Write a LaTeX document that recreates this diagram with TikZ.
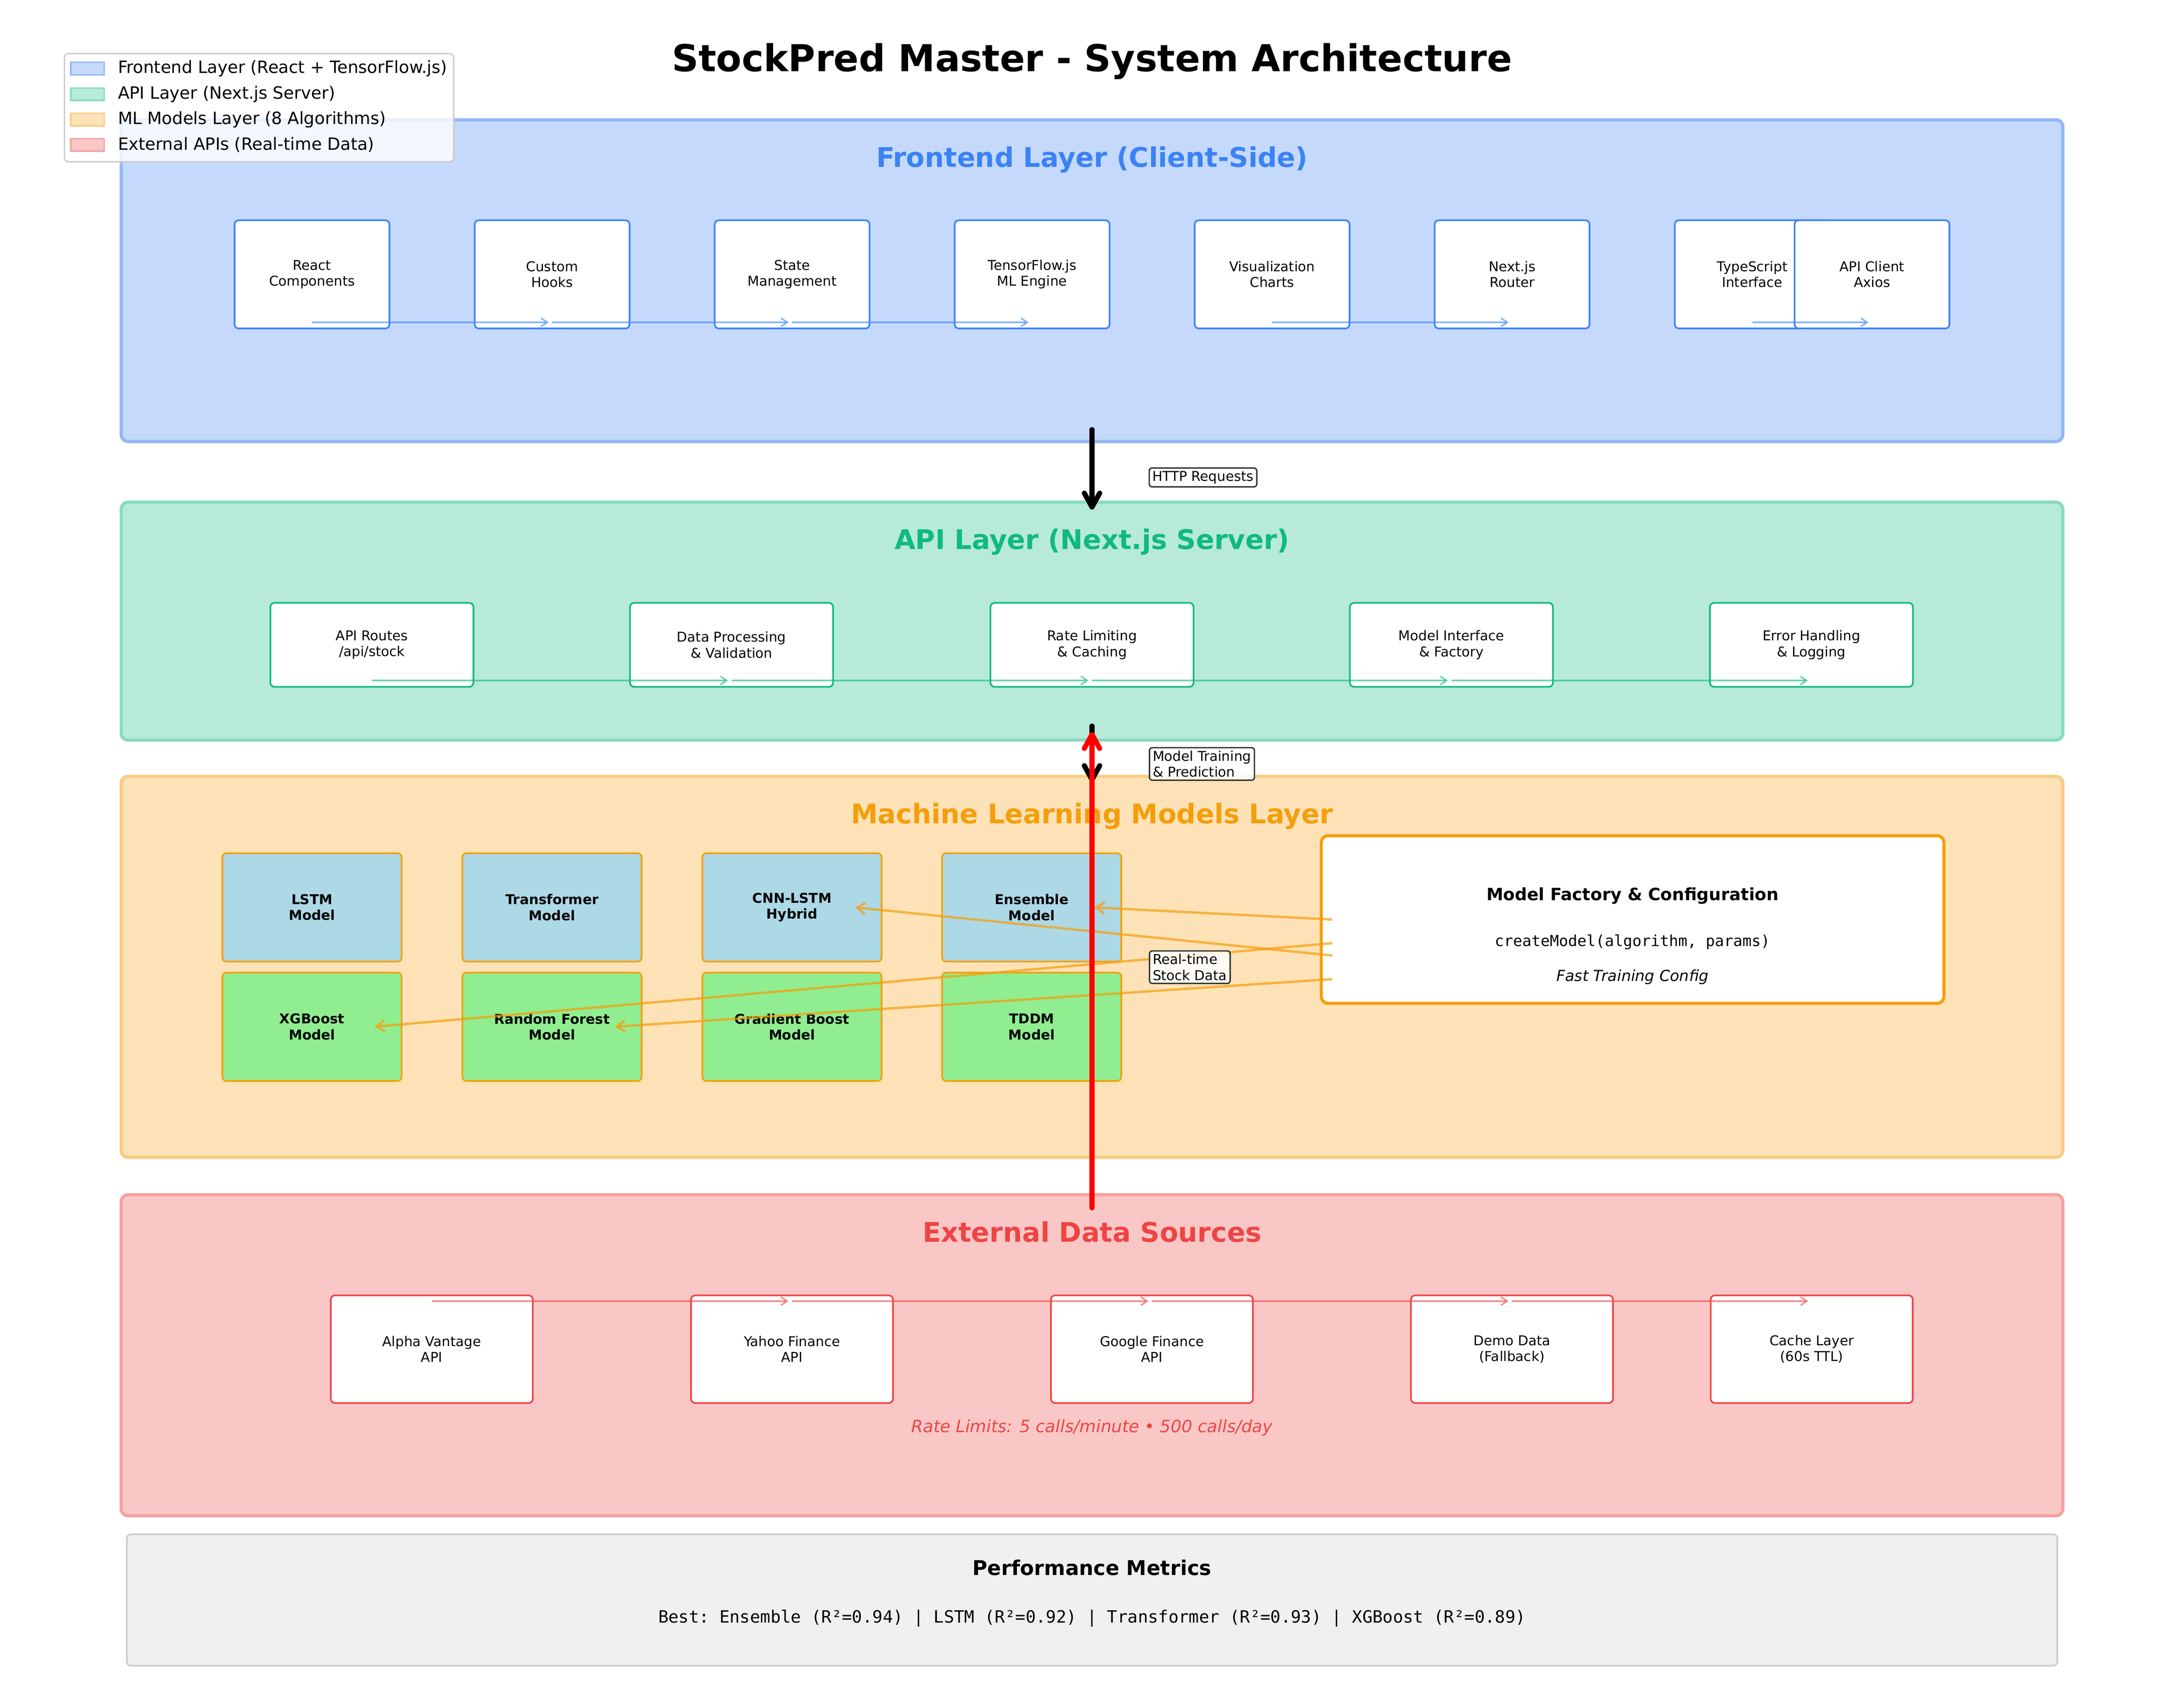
\documentclass[tikz,border=0pt]{standalone}
\usepackage{fontspec}
\setmainfont{DejaVu Sans}
\setmonofont{DejaVu Sans Mono}
\usetikzlibrary{arrows.meta}
\definecolor{feBlue}{HTML}{3B82F6}
\definecolor{apiGreen}{HTML}{10B981}
\definecolor{mlOrange}{HTML}{F59E0B}
\definecolor{extRed}{HTML}{EF4444}
\definecolor{feFill}{HTML}{C4D9FC}
\definecolor{feEdge}{HTML}{93B8F8}
\definecolor{apiFill}{HTML}{B7EAD9}
\definecolor{apiEdge}{HTML}{88DCC0}
\definecolor{mlFill}{HTML}{FCE2B6}
\definecolor{mlEdge}{HTML}{F9CC84}
\definecolor{extFill}{HTML}{FAC7C7}
\definecolor{extEdge}{HTML}{F6A1A1}
\definecolor{mBlue}{HTML}{ADD8E6}
\definecolor{mGreen}{HTML}{90EE90}
\definecolor{perfFill}{HTML}{F0F0F0}
\definecolor{perfEdge}{HTML}{CCCCCC}
\definecolor{lblEdge}{HTML}{333333}
\newcommand{\fsA}{\fontsize{9.73pt}{11.4pt}\selectfont}
\newcommand{\fsB}{\fontsize{10.95pt}{13.1pt}\selectfont}
\newcommand{\fsC}{\fontsize{12.17pt}{14.6pt}\selectfont}
\newcommand{\fsL}{\fontsize{12.15pt}{14.6pt}\selectfont}
\newcommand{\fsD}{\fontsize{14.6pt}{17.5pt}\selectfont}
\newcommand{\fsE}{\fontsize{19.4pt}{23.3pt}\selectfont}
\newcommand{\fsF}{\fontsize{26.6pt}{32pt}\selectfont}
\begin{document}
\begin{tikzpicture}[x=1pt,y=-1pt,
  layer/.style={draw, line width=2.3pt, rounded corners=5pt, inner sep=0pt, outer sep=0pt, minimum width=1394pt},
  ltitle/.style={anchor=base, font=\fsE\bfseries},
  fbox/.style={draw=feBlue, fill=white, line width=1.2pt, rounded corners=3pt, minimum width=111.2pt, minimum height=77.7pt, inner sep=0pt, align=center, font=\fsA},
  abox/.style={draw=apiGreen, fill=white, line width=1.2pt, rounded corners=3pt, minimum width=145.8pt, minimum height=60.3pt, inner sep=0pt, align=center, font=\fsA},
  ebox/.style={draw=extRed, fill=white, line width=1.2pt, rounded corners=3pt, minimum width=145pt, minimum height=77.3pt, inner sep=0pt, align=center, font=\fsA},
  mbox/.style={draw=mlOrange, line width=1.2pt, rounded corners=3pt, minimum width=128.7pt, minimum height=77.8pt, inner sep=0pt, align=center, font=\fsA\bfseries},
  flow/.style={-{Straight Barb[length=4.5pt,width=6pt]}, line width=1.1pt, draw opacity=0.6},
  heavy/.style={-{Straight Barb[length=10pt,width=11pt,round]}, line width=3.65pt, line cap=round},
  factarrow/.style={-{Straight Barb[length=6pt,width=8pt]}, line width=1.7pt, draw=mlOrange, draw opacity=0.7},
  lbl/.style={draw=lblEdge, fill=white, fill opacity=0.85, text opacity=1, line width=1pt, rounded corners=2pt, inner xsep=2.3pt, inner ysep=2.2pt, align=left, font=\fsA, anchor=west},
  patch/.style={line width=1pt, minimum width=24pt, minimum height=9pt, inner sep=0pt},
  legtext/.style={anchor=west, font=\fsL, inner sep=0pt}
]
\useasboundingbox (0,0) rectangle (1568,1217.6);
\fill[white] (0,0) rectangle (1568,1217.6);

% title
\node[anchor=base, font=\fsF\bfseries] (title) at (784,51.2) {StockPred Master - System Architecture};

% layers
\node[layer, draw=feEdge, fill=feFill, minimum height=231pt] (fe) at (784,201.5) {};
\node[layer, draw=apiEdge, fill=apiFill, minimum height=170.8pt] (api) at (784,446) {};
\node[layer, draw=mlEdge, fill=mlFill, minimum height=273.6pt] (ml) at (784,694.2) {};
\node[layer, draw=extEdge, fill=extFill, minimum height=230.5pt] (ext) at (784,973) {};

\node[ltitle, text=feBlue] (fet) at (784,119.8) {Frontend Layer (Client-Side)};
\node[ltitle, text=apiGreen] (apit) at (784,394.3) {API Layer (Next.js Server)};
\node[ltitle, text=mlOrange] (mlt) at (784,591.2) {Machine Learning Models Layer};
\node[ltitle, text=extRed] (extt) at (784,891.7) {External Data Sources};

% frontend boxes
\node[fbox] (f1) at (224,197) {React\\Components};
\node[fbox] (f2) at (396.4,197) {Custom\\Hooks};
\node[fbox] (f3) at (568.7,197) {State\\Management};
\node[fbox] (f4) at (741,197) {TensorFlow.js\\ML Engine};
\node[fbox] (f5) at (913.3,197) {Visualization\\Charts};
\node[fbox] (f6) at (1085.6,197) {Next.js\\Router};
\node[fbox] (f7) at (1258,197) {TypeScript\\Interface};
\node[fbox] (f8) at (1344,197) {API Client\\Axios};
\foreach \a/\b in {f1/f2,f2/f3,f3/f4,f5/f6,f7/f8}
  \draw[flow, draw=feBlue] ([yshift=-34.4pt]\a.center) -- ([shift={(-2.5pt,-34.4pt)}]\b.center);

% api boxes
\node[abox] (a1) at (267,463) {API Routes\\/api/stock};
\node[abox] (a2) at (525.2,463) {Data Processing\\\& Validation};
\node[abox] (a3) at (784,463) {Rate Limiting\\\& Caching};
\node[abox] (a4) at (1042,463) {Model Interface\\\& Factory};
\node[abox] (a5) at (1300.5,463) {Error Handling\\\& Logging};
\foreach \a/\b in {a1/a2,a2/a3,a3/a4,a4/a5}
  \draw[flow, draw=apiGreen] ([yshift=-25.6pt]\a.center) -- ([shift={(-2.5pt,-25.6pt)}]\b.center);

% model boxes
\node[mbox, fill=mBlue] (m1) at (224,651.5) {LSTM\\Model};
\node[mbox, fill=mBlue] (m2) at (396.3,651.5) {Transformer\\Model};
\node[mbox, fill=mBlue] (m3) at (568.6,651.5) {CNN-LSTM\\Hybrid};
\node[mbox, fill=mBlue] (m4) at (740.7,651.5) {Ensemble\\Model};
\node[mbox, fill=mGreen] (m5) at (224,737.2) {XGBoost\\Model};
\node[mbox, fill=mGreen] (m6) at (396.3,737.2) {Random Forest\\Model};
\node[mbox, fill=mGreen] (m7) at (568.6,737.2) {Gradient Boost\\Model};
\node[mbox, fill=mGreen] (m8) at (740.7,737.2) {TDDM\\Model};

% model factory
\node[draw=mlOrange, fill=white, line width=2.2pt, rounded corners=5pt, minimum width=447pt, minimum height=120.4pt, inner sep=0pt] (mf) at (1172.1,660.2) {};
\node[anchor=base, font=\fsC\bfseries] (mft) at (1172.1,646.5) {Model Factory \& Configuration};
\node[anchor=base, font=\fsB\ttfamily] (mfc) at (1172.1,679.5) {createModel(algorithm, params)};
\node[anchor=base, font=\fsB\itshape] (mfi) at (1172.1,704.6) {Fast Training Config};

\draw[factarrow] ([xshift=9pt]mf.west) -- ([xshift=44.7pt]m4.center);
\draw[factarrow] ([shift={(9pt,-25.8pt)}]mf.west) -- ([xshift=45.1pt]m3.center);
\draw[factarrow] ([shift={(9pt,-17pt)}]mf.west) -- ([xshift=44.7pt]m5.center);
\draw[factarrow] ([shift={(9pt,-42.8pt)}]mf.west) -- ([xshift=45pt]m6.center);

% external boxes
\node[ebox] (e1) at (310,968.7) {Alpha Vantage\\API};
\node[ebox] (e2) at (568.6,968.7) {Yahoo Finance\\API};
\node[ebox] (e3) at (827,968.7) {Google Finance\\API};
\node[ebox] (e4) at (1085.5,968.7) {Demo Data\\(Fallback)};
\node[ebox] (e5) at (1300.7,968.7) {Cache Layer\\(60s TTL)};
\foreach \a/\b in {e1/e2,e2/e3,e3/e4,e4/e5}
  \draw[flow, draw=extRed] ([yshift=34.5pt]\a.center) -- ([shift={(-2.5pt,34.5pt)}]\b.center);

\node[anchor=base, font=\fsC\itshape, text=extRed] (rl) at (784,1028.3) {Rate Limits: 5 calls/minute • 500 calls/day};

% main flow arrows
\draw[heavy] ([yshift=8.5pt]fe.south) -- ([yshift=-5.3pt]api.north);
\draw[heavy] ([yshift=10.1pt]api.south) -- ([yshift=-4.2pt]ml.north);
\draw[heavy, draw=red] ([yshift=-9.4pt]ext.north) -- ([yshift=5.9pt]api.south);

% labels
\node[lbl] (lh) at (824.6,342.8) {HTTP Requests};
\node[lbl] (lm) at (824.8,548.5) {Model Training\\\& Prediction};
\node[lbl] (lr) at (824.8,694.4) {Real-time\\Stock Data};

% performance
\node[draw=perfEdge, fill=perfFill, line width=1.2pt, rounded corners=3pt, minimum width=1386pt, minimum height=94.4pt, inner sep=0pt] (pm) at (784,1148.8) {};
\node[anchor=base, font=\fsD\bfseries] (pmt) at (784,1131.1) {Performance Metrics};
\node[anchor=base, font=\fsC\ttfamily] (pml) at (784,1165.1) {Best: Ensemble (R²=0.94) | LSTM (R²=0.92) | Transformer (R²=0.93) | XGBoost (R²=0.89)};

% legend
\node[draw=perfEdge, fill=white, fill opacity=0.8, line width=1pt, rounded corners=3pt, minimum width=279.5pt, minimum height=77.6pt, inner sep=0pt] (lg) at (186,77.3) {};
\node[patch, draw=feEdge, fill=feFill] (lp1) at (62.8,49.2) {};
\node[patch, draw=apiEdge, fill=apiFill] (lp2) at (62.8,67.6) {};
\node[patch, draw=mlEdge, fill=mlFill] (lp3) at (62.8,85.8) {};
\node[patch, draw=extEdge, fill=extFill] (lp4) at (62.8,104) {};
\node[legtext] (lt1) at (84.5,49.2) {Frontend Layer (React + TensorFlow.js)};
\node[legtext] (lt2) at (84.5,67.6) {API Layer (Next.js Server)};
\node[legtext] (lt3) at (84.5,85.8) {ML Models Layer (8 Algorithms)};
\node[legtext] (lt4) at (84.5,104) {External APIs (Real-time Data)};
\end{tikzpicture}
\end{document}
